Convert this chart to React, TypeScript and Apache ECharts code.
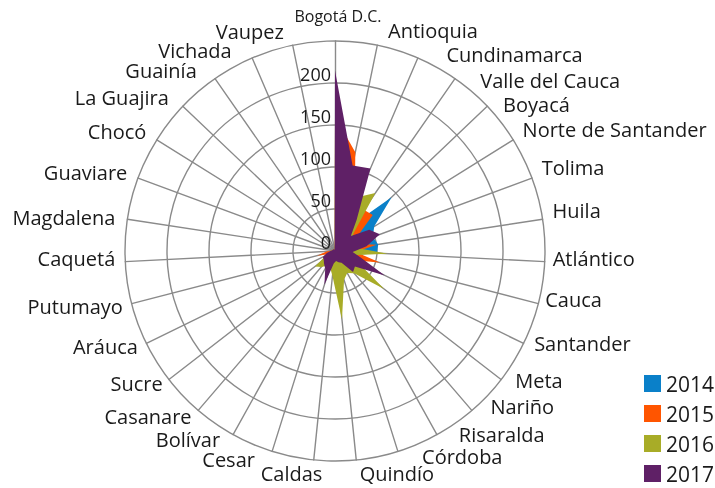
import React, { useEffect, useRef } from "react";
import * as echarts from "echarts";

const categories = [
  "Bogotá D.C.", "Antioquia", "Cundinamarca", "Valle del Cauca", "Boyacá",
  "Norte de Santander", "Tolima", "Huila", "Atlántico", "Cauca", "Santander",
  "Meta", "Nariño", "Risaralda", "Córdoba", "Quindío", "Caldas", "Cesar",
  "Bolívar", "Casanare", "Sucre", "Aráuca", "Putumayo", "Caquetá", "Magdalena",
  "Guaviare", "Chocó", "La Guajira", "Guainía", "Vichada", "Vaupez",
];

const years = ["2014", "2015", "2016", "2017"];

const values2014 = [150, 60, 45, 40, 93, 55, 48, 52, 50, 20, 12, 10, 8, 6, 5, 5, 8, 10, 6, 5, 5, 3, 3, 3, 3, 2, 2, 2, 1, 1, 1];
const values2015 = [160, 120, 60, 60, 62, 30, 25, 50, 25, 55, 25, 15, 10, 8, 6, 6, 8, 10, 6, 6, 8, 8, 22, 10, 4, 3, 3, 3, 2, 2, 2];
const values2016 = [150, 90, 70, 84, 30, 25, 22, 25, 63, 20, 30, 74, 35, 30, 36, 82, 30, 20, 20, 25, 30, 12, 8, 6, 4, 3, 3, 3, 2, 2, 2];
const values2017 = [215, 104, 107, 45, 26, 48, 57, 38, 21, 32, 66, 30, 33, 16, 14, 12, 15, 42, 24, 20, 17, 16, 10, 6, 4, 3, 3, 3, 2, 2, 2];

const radialTicks = [0, 50, 100, 150, 200, 250];

const colors = ["#0A80C9", "#FF5500", "#A8AC27", "#5F2066"];

// Layout only: nudge of each category label [outward px, downward px]
const labelNudges: [number, number][] = [
  [3, -6.5], [10, -11], [27, 0], [23, 5], [13, 1], [6, -8], [6, -9], [6, -8],
  [4, -3], [3, -5], [7, -2], [11, -1], [16, -7], [20, -4], [23, 1], [3, 10],
  [-9, 10], [16, 4], [11, 1], [4, 3], [3, 2], [5, 1], [5, 1.5], [6, -3],
  [8, -1], [7, -4], [7, -6], [11, -6], [16, -5], [19, -4], [8, -10],
];

// ECharts radar runs counter-clockwise; the reference runs clockwise.
const reorder = <T,>(arr: T[]): T[] => [arr[0], ...arr.slice(1).reverse()];

export default function App() {
  const ref = useRef<HTMLDivElement>(null);
  useEffect(() => {
    if (!ref.current) return;
    const chart = echarts.init(ref.current, undefined, { renderer: "svg" });
    const FONT = "Open Sans";
    const maxV = radialTicks[radialTicks.length - 1];
    const series = [values2014, values2015, values2016, values2017];
    const n = categories.length;
    const rich: Record<string, any> = {};
    categories.forEach((c, i) => {
      const [dx, dy] = labelNudges[i];
      const pt = dy > 0 ? 2 * dy : 0;
      const pb = dy < 0 ? -2 * dy : 0;
      let padding: number[];
      if (i === 0) padding = [pt, 0, pb, 2 * dx];
      else if (i <= (n - 1) / 2) padding = [pt, 0, pb, dx];
      else padding = [pt, dx, pb, 0];
      rich["c" + i] = {
        fontSize: i === 0 ? 16 : 20,
        color: "#1a1a1a",
        fontFamily: FONT,
        padding,
      };
    });
    chart.setOption({
      animation: false,
      textStyle: { fontFamily: FONT },
      color: colors,
      legend: {
        orient: "vertical",
        left: 644,
        top: 373,
        padding: 0,
        itemGap: 9,
        itemWidth: 17,
        itemHeight: 17,
        icon: "rect",
        textStyle: { fontSize: 21, color: "#1a1a1a", fontFamily: FONT },
        data: years,
      },
      radar: {
        center: [335, 251],
        radius: 210,
        startAngle: 90,
        shape: "circle",
        splitNumber: 5,
        indicator: reorder(categories).map((c) => ({ name: c, min: 0, max: maxV })),
        axisName: {
          color: "#1a1a1a",
          fontSize: 20,
          fontFamily: FONT,
          formatter: (name: string) => `{c${categories.indexOf(name)}|${name}}`,
          rich,
        },
        nameGap: 4,
        axisLine: { lineStyle: { color: "#8a8a8a", width: 1.4 } },
        splitLine: { lineStyle: { color: "#8a8a8a", width: 1.4 } },
        splitArea: { show: false },
      },
      polar: { center: [335, 251], radius: 210 },
      angleAxis: { show: false, startAngle: 90, min: 0, max: 360 },
      radiusAxis: {
        min: 0,
        max: maxV,
        interval: 50,
        axisLine: { show: false },
        axisTick: { show: false },
        splitLine: { show: false },
        axisLabel: {
          fontSize: 18,
          color: "#1a1a1a",
          fontFamily: FONT,
          margin: 4,
          verticalAlign: "bottom",
          formatter: (v: number) => (v === maxV ? "" : String(v)),
        },
        z: 10,
      },
      series: [
        {
          type: "radar",
          symbol: "none",
          lineStyle: { width: 0 },
          data: series.map((vals, i) => ({
            name: years[i],
            value: reorder(vals),
            areaStyle: { color: colors[i], opacity: 1 },
            lineStyle: { width: 0, color: colors[i] },
          })),
        },
      ],
    });
    return () => chart.dispose();
  }, []);
  return <div ref={ref} style={{ position: "fixed", left: 0, top: 0, width: 715, height: 488 }} />;
}
